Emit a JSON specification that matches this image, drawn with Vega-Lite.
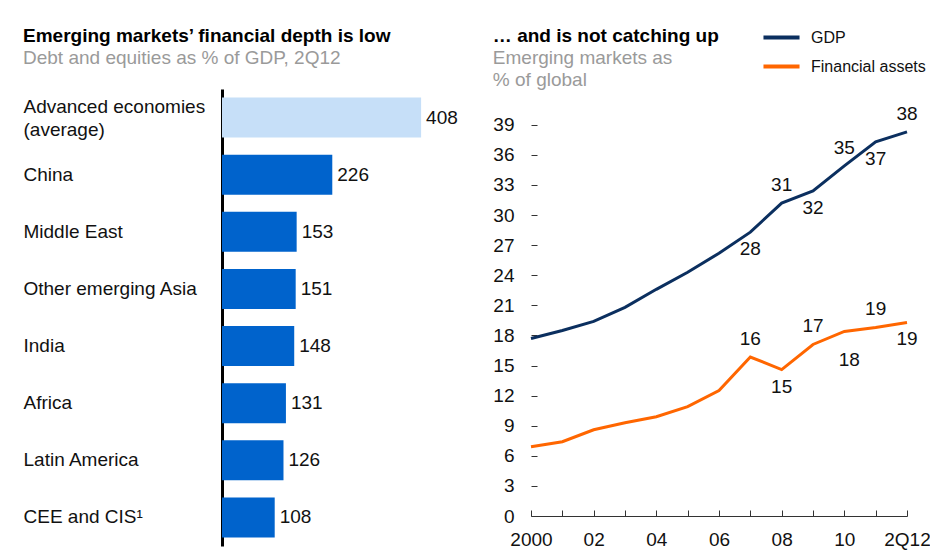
{
  "$schema": "https://vega.github.io/schema/vega-lite/v6.json",
  "padding": {"left": 23, "top": 17, "right": 0, "bottom": 5},
  "config": {"font": "Liberation Sans", "view": {"stroke": null}},
  "spacing": 26,
  "resolve": {"scale": {"color": "shared"}, "legend": {"color": "shared"}},
  "datasets": {
    "depth": [
      {"region": "Advanced economies (average)", "value": 408},
      {"region": "China", "value": 226},
      {"region": "Middle East", "value": 153},
      {"region": "Other emerging Asia", "value": 151},
      {"region": "India", "value": 148},
      {"region": "Africa", "value": 131},
      {"region": "Latin America", "value": 126},
      {"region": "CEE and CIS¹", "value": 108}
    ],
    "share": [
      {"series": "GDP", "year": 2000, "value": 17.7},
      {"series": "GDP", "year": 2001, "value": 18.5},
      {"series": "GDP", "year": 2002, "value": 19.4},
      {"series": "GDP", "year": 2003, "value": 20.8},
      {"series": "GDP", "year": 2004, "value": 22.6},
      {"series": "GDP", "year": 2005, "value": 24.3},
      {"series": "GDP", "year": 2006, "value": 26.2},
      {"series": "GDP", "year": 2007, "value": 28.3},
      {"series": "GDP", "year": 2008, "value": 31.2},
      {"series": "GDP", "year": 2009, "value": 32.4},
      {"series": "GDP", "year": 2010, "value": 34.9},
      {"series": "GDP", "year": 2011, "value": 37.3},
      {"series": "GDP", "year": 2012, "value": 38.3},
      {"series": "Financial assets", "year": 2000, "value": 6.9},
      {"series": "Financial assets", "year": 2001, "value": 7.4},
      {"series": "Financial assets", "year": 2002, "value": 8.6},
      {"series": "Financial assets", "year": 2003, "value": 9.3},
      {"series": "Financial assets", "year": 2004, "value": 9.9},
      {"series": "Financial assets", "year": 2005, "value": 10.9},
      {"series": "Financial assets", "year": 2006, "value": 12.5},
      {"series": "Financial assets", "year": 2007, "value": 15.85},
      {"series": "Financial assets", "year": 2008, "value": 14.6},
      {"series": "Financial assets", "year": 2009, "value": 17.1},
      {"series": "Financial assets", "year": 2010, "value": 18.4},
      {"series": "Financial assets", "year": 2011, "value": 18.8},
      {"series": "Financial assets", "year": 2012, "value": 19.3}
    ]
  },
  "hconcat": [
    {
      "width": 244,
      "height": 457,
      "data": {"name": "depth"},
      "title": {
        "text": "Emerging markets’ financial depth is low",
        "subtitle": "Debt and equities as % of GDP, 2Q12",
        "anchor": "start", "frame": "bounds",
        "fontSize": 19, "fontWeight": "bold", "color": "#000",
        "subtitleFontSize": 19, "subtitleColor": "#9a9a9a", "subtitlePadding": 3,
        "offset": 21
      },
      "encoding": {
        "y": {
          "field": "region", "type": "nominal", "sort": null,
          "scale": {"paddingInner": 0.3, "paddingOuter": 0.15},
          "axis": {
            "title": null, "domainColor": "#000", "domainWidth": 3, "ticks": false,
            "labelAlign": "left", "labelPadding": 199, "labelFontSize": 19, "labelColor": "#111",
            "labelLimit": 0, "labelLineHeight": 23,
            "labelOffset": {"condition": {"test": "datum.value == 'Advanced economies (average)'", "value": -11}, "value": 0},
            "labelExpr": "datum.value == 'Advanced economies (average)' ? ['Advanced economies', '(average)'] : datum.value"
          }
        },
        "x": {"field": "value", "type": "quantitative", "scale": {"domain": [0, 500], "nice": false}, "axis": null}
      },
      "layer": [
        {
          "mark": {"type": "bar"},
          "encoding": {
            "color": {"condition": {"test": "datum.region == 'Advanced economies (average)'", "value": "#c6dff8"}, "value": "#0063cc"}
          }
        },
        {
          "mark": {"type": "text", "align": "left", "baseline": "middle", "dx": 5, "fontSize": 19, "color": "#111"},
          "encoding": {"text": {"field": "value", "type": "quantitative"}}
        }
      ]
    },
    {
      "width": 376,
      "height": 427,
      "data": {"name": "share"},
      "title": {
        "text": "… and is not catching up",
        "subtitle": ["Emerging markets as", "% of global"],
        "anchor": "start", "frame": "bounds",
        "fontSize": 19, "fontWeight": "bold", "color": "#000",
        "subtitleFontSize": 19, "subtitleColor": "#9a9a9a", "subtitlePadding": 3, "subtitleLineHeight": 22,
        "offset": -1
      },
      "encoding": {
        "x": {
          "field": "year", "type": "quantitative",
          "scale": {"domain": [2000, 2012], "nice": false},
          "axis": {
            "title": null, "values": [2000, 2001, 2002, 2003, 2004, 2005, 2006, 2007, 2008, 2009, 2010, 2011, 2012],
            "format": "d", "grid": false,
            "labelExpr": "datum.value == 2000 ? '2000' : datum.value == 2012 ? '2Q12' : datum.value % 2 == 0 ? substring(datum.label, 2) : ''",
            "tickSize": -6, "tickColor": "#333", "domainColor": "#333",
            "labelPadding": 20, "labelFontSize": 19, "labelColor": "#111", "labelFlush": false, "labelOverlap": false
          }
        },
        "y": {
          "field": "value", "type": "quantitative",
          "scale": {"domain": [0, 42.57], "nice": false},
          "axis": {
            "title": null, "values": [0, 3, 6, 9, 12, 15, 18, 21, 24, 27, 30, 33, 36, 39],
            "domain": false, "grid": false, "tickSize": -6, "tickColor": "#333",
            "labelPadding": 23, "labelFontSize": 19, "labelColor": "#111"
          }
        }
      },
      "layer": [
        {
          "data": {"values": [{}]},
          "mark": {"type": "rule", "color": "#333", "strokeWidth": 1},
          "encoding": {"x": {"datum": 2000}, "y": {"datum": 0}, "y2": {"datum": 39}}
        },
        {
          "mark": {"type": "line", "strokeWidth": 3},
          "encoding": {
            "color": {
              "field": "series", "type": "nominal",
              "scale": {"domain": ["GDP", "Financial assets"], "range": ["#0b2f5f", "#ff6600"]},
              "legend": {
                "orient": "none", "legendX": 539, "legendY": -72, "title": null,
                "symbolType": "stroke", "symbolStrokeWidth": 4, "symbolSize": 1300,
                "labelFontSize": 16, "labelColor": "#111", "labelOffset": 9, "rowPadding": -9
              }
            }
          }
        },
        {
          "transform": [{"filter": "datum.year >= 2007 && (datum.series == 'GDP') == (datum.year % 2 == 0)"}],
          "mark": {"type": "text", "align": "center", "baseline": "middle", "dy": -18, "fontSize": 19, "color": "#111"},
          "encoding": {"text": {"field": "value", "type": "quantitative", "format": ".0f"}}
        },
        {
          "transform": [{"filter": "datum.year >= 2007 && (datum.series == 'GDP') != (datum.year % 2 == 0) && !(datum.series == 'Financial assets' && datum.year == 2010)"}],
          "mark": {"type": "text", "align": "center", "baseline": "middle", "dy": 17, "fontSize": 19, "color": "#111"},
          "encoding": {"text": {"field": "value", "type": "quantitative", "format": ".0f"}}
        },
        {
          "transform": [{"filter": "datum.series == 'Financial assets' && datum.year == 2010"}],
          "mark": {"type": "text", "align": "center", "baseline": "middle", "dy": 29, "dx": 5, "fontSize": 19, "color": "#111"},
          "encoding": {"text": {"field": "value", "type": "quantitative", "format": ".0f"}}
        }
      ]
    }
  ]
}
